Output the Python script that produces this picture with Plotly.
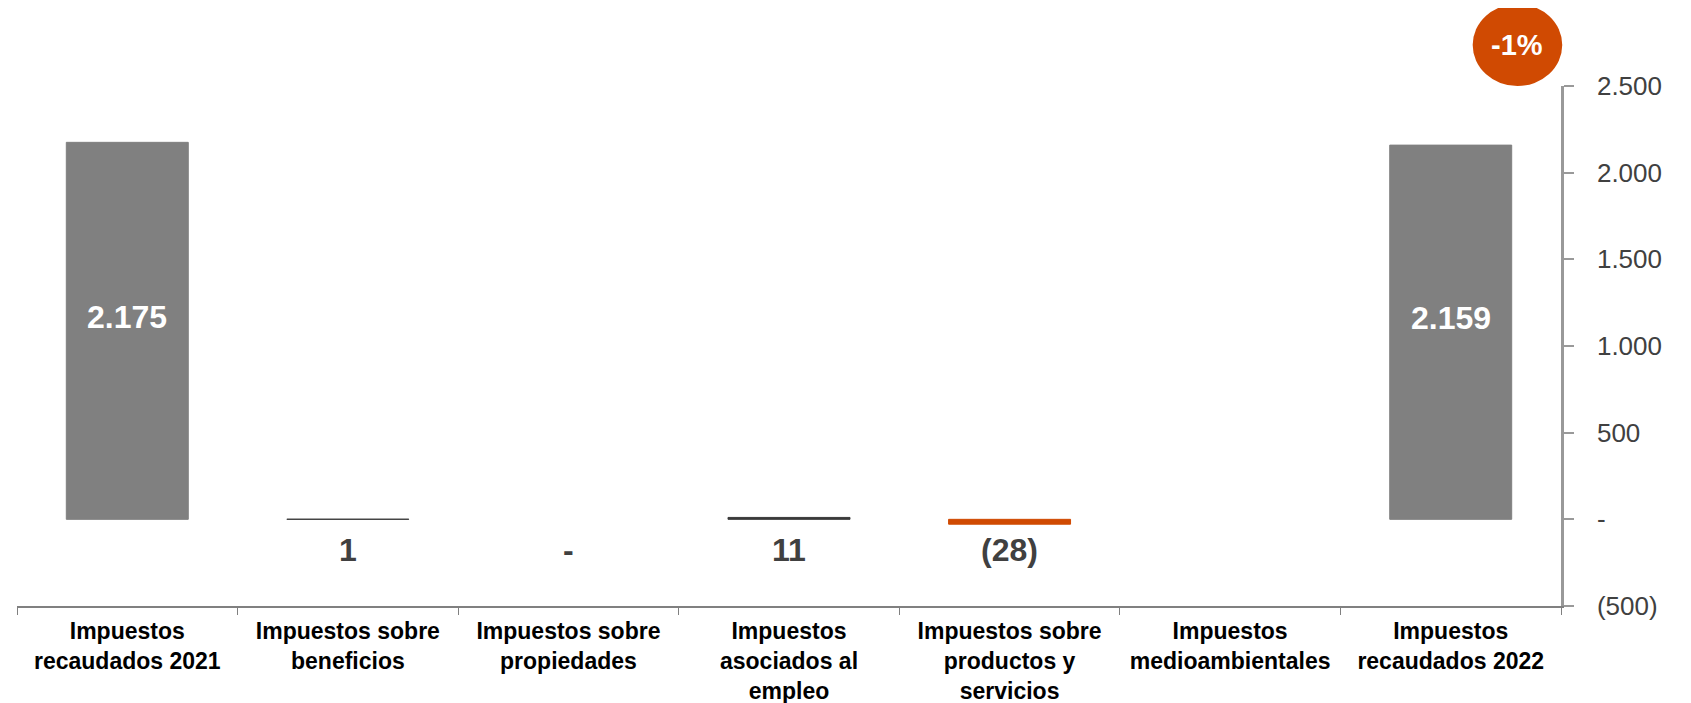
import plotly.graph_objects as go

categories = [
    "Impuestos<br>recaudados 2021",
    "Impuestos sobre<br>beneficios",
    "Impuestos sobre<br>propiedades",
    "Impuestos<br>asociados al<br>empleo",
    "Impuestos sobre<br>productos y<br>servicios",
    "Impuestos<br>medioambientales",
    "Impuestos<br>recaudados 2022",
]
values = [2175, 1, 0, 11, -28, None, 2159]
is_total = [True, False, False, False, False, False, True]
variation_label = "-1%"

y_tickvals = [2500, 2000, 1500, 1000, 500, 0, -500]
y_ticktext = ["2.500", "2.000", "1.500", "1.000", "500", "-", "(500)"]

GRAY = "#808080"
DARK = "#3A3A3A"
ORANGE = "#D04A02"
LABEL = "#404040"
FONT = "Liberation Sans, Arial, sans-serif"


def fmt(v):
    if v is None:
        return ""
    if v == 0:
        return "-"
    s = f"{abs(v):,}".replace(",", ".")
    return f"({s})" if v < 0 else s


tot_x = [c for c, t in zip(categories, is_total) if t]
tot_y = [v for v, t in zip(values, is_total) if t]
chg_x = [c for c, t in zip(categories, is_total) if not t]
chg_y = [v for v, t in zip(values, is_total) if not t]
chg_col = [(ORANGE if (v or 0) < 0 else DARK) for v in chg_y]
chg_lw = [1 if v else 0 for v in chg_y]

fig = go.Figure()
fig.add_trace(go.Bar(
    x=tot_x, y=tot_y, width=0.553,
    marker=dict(color=GRAY, line=dict(color=GRAY, width=1)),
    showlegend=False, hoverinfo="skip",
))
fig.add_trace(go.Bar(
    x=chg_x, y=chg_y, width=0.553,
    marker=dict(color=chg_col, line=dict(color=chg_col, width=chg_lw)),
    showlegend=False, hoverinfo="skip",
))

for c, v in zip(tot_x, tot_y):
    fig.add_annotation(
        x=c, y=v / 2, xref="x", yref="y", text=fmt(v), showarrow=False,
        xanchor="center", yanchor="middle", yshift=14,
        font=dict(family=FONT, size=32, color="white", weight="bold"),
    )

for c, v in zip(chg_x, chg_y):
    if v is None:
        continue
    fig.add_annotation(
        x=c, y=0, xref="x", yref="y", text=fmt(v), showarrow=False,
        xanchor="center", yanchor="middle", yshift=-31,
        font=dict(family=FONT, size=32, color=LABEL, weight="bold"),
    )

# variation bubble
fig.add_shape(type="circle", xref="paper", yref="paper",
              x0=0.9428, x1=1.0008, y0=1.0, y1=1.1577,
              fillcolor=ORANGE, line=dict(width=0), layer="above")
fig.add_annotation(x=0.9718, y=1.0788, xref="paper", yref="paper",
                   xanchor="center", yanchor="middle",
                   text=variation_label, showarrow=False,
                   font=dict(family=FONT, size=29, color="white", weight="bold"))

# page body adds an 8px margin; figure size/margins compensate for it
fig.update_layout(
    width=1683, height=695,
    margin=dict(l=9, r=130, t=78, b=97, autoexpand=False),
    paper_bgcolor="white", plot_bgcolor="white",
    barmode="overlay", bargap=0.447,
    font=dict(family=FONT),
)
fig.update_xaxes(
    type="category", categoryorder="array", categoryarray=categories,
    automargin=False,
    showline=True, linecolor="#808080", linewidth=1.5,
    ticks="outside", tickson="boundaries", ticklen=7, tickcolor="#808080",
    ticklabelstandoff=4,
    tickfont=dict(family=FONT, size=23, color="#000000", weight="bold"),
    showgrid=False, zeroline=False,
)
fig.update_yaxes(
    side="right", range=[-500, 2500], automargin=False,
    tickvals=y_tickvals, ticktext=y_ticktext,
    showline=True, linecolor="#999999", linewidth=2.5,
    ticks="outside", ticklen=10, tickcolor="#999999", tickwidth=2,
    ticklabelstandoff=18,
    tickfont=dict(family=FONT, size=26, color=LABEL),
    showgrid=False, zeroline=False,
)

fig.write_html("out.html")
